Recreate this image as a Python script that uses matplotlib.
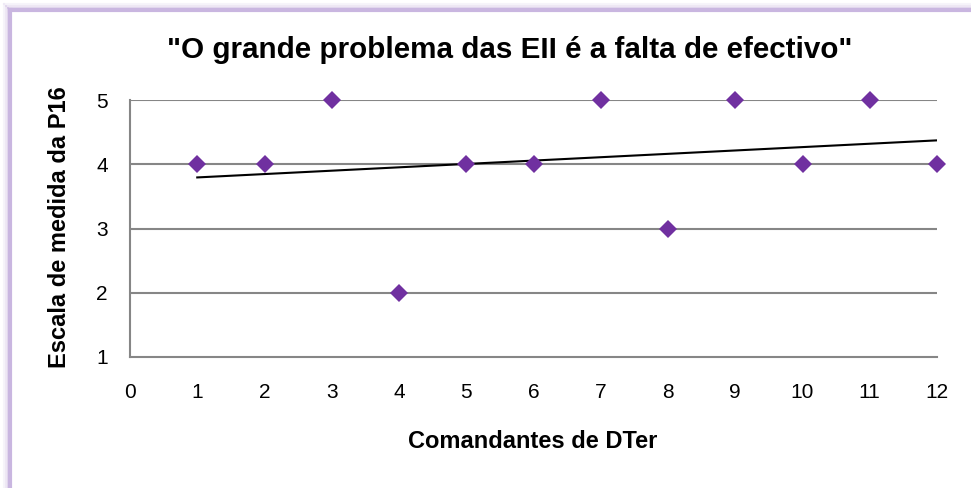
import numpy as np
import matplotlib.pyplot as plt
from matplotlib.lines import Line2D

plt.rcParams['font.family'] = ['Liberation Sans', 'DejaVu Sans']

# Data
comandantes = [1, 2, 3, 4, 5, 6, 7, 8, 9, 10, 11, 12]
escala = [4, 4, 5, 2, 4, 4, 5, 3, 5, 4, 5, 4]
x_ticks = list(range(0, 13))
y_ticks = [1, 2, 3, 4, 5]

W, H = 971, 488
fig = plt.figure(figsize=(W / 100, H / 100), dpi=100)
ax = fig.add_axes([130 / W, 1 - 357 / H, 807 / W, 257 / H])

# gridlines
for yv in y_ticks[1:]:
    ax.axhline(yv, color='#868686', lw=1.5, zorder=1)

ax.plot(comandantes, escala, 'D', color='#7030A0', markersize=9.5,
        markeredgewidth=0, zorder=3, clip_on=False)

# linear trend line
coef = np.polyfit(comandantes, escala, 1)
xt = np.array([comandantes[0], comandantes[-1]])
ax.plot(xt, np.polyval(coef, xt), color='black', lw=1.5, zorder=2)

ax.set_xlim(0, 12)
ax.set_ylim(1, 5)
ax.set_xticks(x_ticks)
ax.set_yticks(y_ticks)
ax.tick_params(length=0, labelsize=15)
ax.tick_params(axis='x', pad=19)
ax.tick_params(axis='y', pad=16)
for s in ['top', 'right']:
    ax.spines[s].set_visible(False)
for s in ['left', 'bottom']:
    ax.spines[s].set_color('#868686')
    ax.spines[s].set_linewidth(1.5)

fig.text(510 / W, 1 - 50 / H, '"O grande problema das EII é a falta de efectivo"',
         fontsize=21.3, fontweight='bold', ha='center', va='center')
fig.text(533 / W, 1 - 442 / H, 'Comandantes de DTer', fontsize=17,
         fontweight='bold', ha='center', va='center')
fig.text(59 / W, 1 - 227 / H, 'Escala de medida da P16', fontsize=17,
         fontweight='bold', ha='center', va='center', rotation=90)

# chart border with soft shadow
for off, alpha in [(0, 0.15), (2, 0.3), (4, 0.5)]:
    x0 = (4 + off) / W
    y0 = 1 - (4 + off) / H
    fig.add_artist(Line2D([x0, x0], [0, y0], transform=fig.transFigure,
                          color='#C9B6E0', lw=1.5, alpha=alpha))
    fig.add_artist(Line2D([x0, 1], [y0, y0], transform=fig.transFigure,
                          color='#C9B6E0', lw=1.5, alpha=alpha))
xb = 10 / W
yb = 1 - 10 / H
fig.add_artist(Line2D([xb, xb], [0, yb], transform=fig.transFigure,
                      color='#C9B6E0', lw=3))
fig.add_artist(Line2D([xb, 1], [yb, yb], transform=fig.transFigure,
                      color='#C9B6E0', lw=3))

fig.savefig('out.png', dpi=100)
